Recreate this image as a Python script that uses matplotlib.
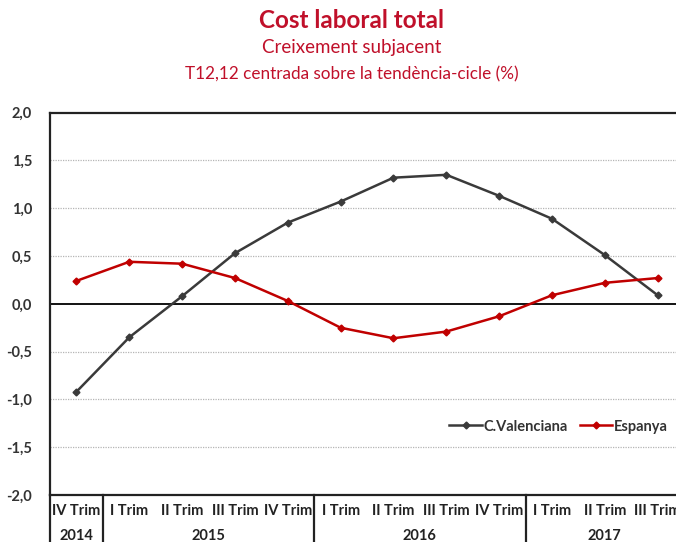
import matplotlib
matplotlib.use("Agg")
import matplotlib.pyplot as plt
from matplotlib.transforms import blended_transform_factory

plt.rcParams['font.family'] = ['Lato', 'DejaVu Sans']

# quarters from IV 2014 to III 2017
quarters = ["IV Trim", "I Trim", "II Trim", "III Trim", "IV Trim",
            "I Trim", "II Trim", "III Trim", "IV Trim",
            "I Trim", "II Trim", "III Trim"]
years = ["2014", "2015", "2016", "2017"]
year_spans = [(0, 1), (1, 5), (5, 9), (9, 12)]

valenciana = [-0.92, -0.35, 0.08, 0.53, 0.85, 1.07, 1.32, 1.35, 1.13, 0.89, 0.51, 0.09]
espanya = [0.24, 0.44, 0.42, 0.27, 0.03, -0.25, -0.36, -0.29, -0.13, 0.09, 0.22, 0.27]

y_ticks = [-2.0, -1.5, -1.0, -0.5, 0.0, 0.5, 1.0, 1.5, 2.0]

red = "#C00000"
grey = "#3a3a3a"
title_red = "#C0102A"

fig = plt.figure(figsize=(6.76, 5.42), dpi=100)
ax = fig.add_axes([0.074, 0.0867, 0.938, 0.7054])

x = list(range(len(quarters)))
ax.plot(x, valenciana, color=grey, lw=1.8, marker="D", ms=3.5, label="C.Valenciana")
ax.plot(x, espanya, color=red, lw=1.8, marker="D", ms=3.5, label="Espanya")

ax.set_xlim(-0.5, len(quarters) - 0.5)
ax.set_ylim(-2.0, 2.0)
ax.set_yticks(y_ticks)
ax.set_yticklabels([f"{v:.1f}".replace(".", ",") for v in y_ticks],
                   fontsize=10.5, fontweight="bold", color="#333333")
ax.tick_params(axis="y", length=0, pad=13)
ax.set_xticks([])

for v in y_ticks:
    if v not in (0.0, -2.0, 2.0):
        ax.axhline(v, color="#b5b5b5", lw=0.9, ls=(0, (1, 1)), zorder=0)
ax.axhline(0, color="black", lw=1.3, zorder=1)

for side in ["left", "top", "bottom"]:
    ax.spines[side].set_color("#222222")
    ax.spines[side].set_linewidth(1.6)
ax.spines["right"].set_visible(False)

# category labels below the axis
trans = blended_transform_factory(ax.transData, fig.transFigure)
for i, q in enumerate(quarters):
    ax.text(i, 1 - 511 / 542, q, transform=trans, ha="center", va="center",
            fontsize=10.5, fontweight="bold", color="#222222", clip_on=False)
for yr, (a, b) in zip(years, year_spans):
    ax.text((a + b - 1) / 2, 1 - 536 / 542, yr, transform=trans, ha="center", va="center",
            fontsize=10.5, fontweight="bold", color="#222222", clip_on=False)
    ax.plot([a - 0.5, a - 0.5], [0.0867, 0.0], transform=trans, color="#222222",
            lw=1.6, clip_on=False)

leg = ax.legend(loc="center right", bbox_to_anchor=(0.995, 0.179), ncol=2, frameon=False,
                handlelength=2.2, columnspacing=0.8, handletextpad=0.15,
                prop={"size": 10.5, "weight": "bold"})
for t in leg.get_texts():
    t.set_color("#333333")

fig.text(0.52, 1 - 20 / 542, "Cost laboral total", ha="center", va="center",
         fontsize=17.5, fontweight="bold", color=title_red)
fig.text(0.52, 1 - 48 / 542, "Creixement subjacent", ha="center", va="center",
         fontsize=13.5, color=title_red)
fig.text(0.52, 1 - 74 / 542, "T12,12 centrada sobre la tendència-cicle (%)", ha="center",
         va="center", fontsize=12.3, color=title_red)

fig.savefig("out.png", dpi=100)
